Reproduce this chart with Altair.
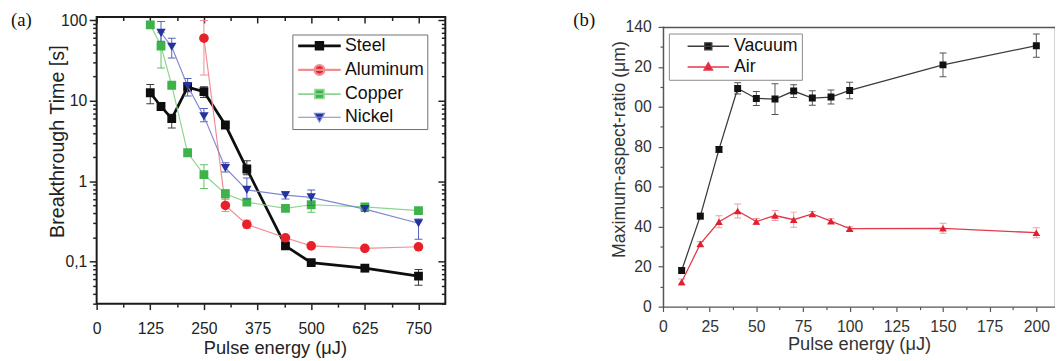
import altair as alt
import pandas as pd

FONT = "Liberation Sans"
SERIF = "Liberation Serif"

# ---------------- Panel (a): breakthrough time (log) ----------------
a_series = ["Steel", "Aluminum", "Copper", "Nickel"]

steel_x = [125, 150, 175, 212, 250, 300, 350, 440, 500, 625, 750]
steel_y = [12.6, 8.5, 6.0, 14.8, 13.0, 5.0, 1.42, 0.157, 0.097, 0.083, 0.066]
steel_lo = [9.2, 8.0, 4.6, 13.0, 11.0, 4.6, 1.20, 0.150, 0.093, 0.075, 0.051]
steel_hi = [16.0, 9.0, 6.8, 16.5, 15.0, 5.4, 1.80, 0.165, 0.101, 0.091, 0.080]

alu_x = [250, 300, 350, 440, 500, 625, 750]
alu_y = [60.0, 0.50, 0.29, 0.198, 0.157, 0.146, 0.153]
alu_lo = [21.0, 0.42, 0.26, 0.186, 0.150, 0.140, 0.145]
alu_hi = [100.0, 0.60, 0.33, 0.210, 0.165, 0.152, 0.161]

cu_x = [125, 150, 175, 212, 250, 300, 350, 440, 500, 625, 750]
cu_y = [88.0, 48.0, 15.6, 2.26, 1.21, 0.70, 0.55, 0.46, 0.51, 0.48, 0.43]
cu_lo = [85.0, 25.5, 15.0, 2.10, 0.81, 0.60, 0.52, 0.43, 0.41, 0.46, 0.41]
cu_hi = [92.0, 70.0, 16.5, 2.40, 1.60, 0.78, 0.59, 0.49, 0.62, 0.50, 0.45]

ni_x = [150, 175, 212, 250, 300, 350, 440, 500, 625, 750]
ni_y = [70.0, 47.0, 15.3, 6.4, 1.46, 0.78, 0.67, 0.63, 0.45, 0.30]
ni_lo = [55.0, 34.0, 11.5, 5.5, 1.30, 0.60, 0.60, 0.50, 0.42, 0.19]
ni_hi = [97.0, 60.0, 19.0, 8.0, 1.70, 1.10, 0.74, 0.78, 0.48, 0.34]

# ---------------- Panel (b): maximum aspect ratio ----------------
b_series = ["Vacuum", "Air"]
b_x = [10, 20, 30, 40, 50, 60, 70, 80, 90, 100, 150, 200]
vac_y = [18.1, 45.3, 78.7, 109.2, 104.2, 103.9, 107.9, 104.4, 104.9, 108.2, 121.0, 130.6]
vac_err = [1.2, 1.5, 1.5, 2.8, 3.5, 7.7, 3.2, 3.6, 3.5, 4.1, 6.0, 5.8]
air_y = [12.3, 31.4, 42.5, 47.9, 42.6, 45.6, 43.5, 46.4, 42.8, 39.0, 39.2, 37.0]
air_err = [1.5, 1.2, 3.0, 3.5, 1.5, 2.5, 3.8, 1.2, 1.2, 1.0, 2.5, 2.5]

# ---------------- tables ----------------
def frame(name, xs, ys, lo, hi):
    return pd.DataFrame({"series": name, "x": xs, "y": ys, "lo": lo, "hi": hi})

df_a = pd.concat([
    frame("Steel", steel_x, steel_y, steel_lo, steel_hi),
    frame("Aluminum", alu_x, alu_y, alu_lo, alu_hi),
    frame("Copper", cu_x, cu_y, cu_lo, cu_hi),
    frame("Nickel", ni_x, ni_y, ni_lo, ni_hi),
], ignore_index=True)

df_b = pd.concat([
    frame("Vacuum", b_x, vac_y, [v - e for v, e in zip(vac_y, vac_err)], [v + e for v, e in zip(vac_y, vac_err)]),
    frame("Air", b_x, air_y, [v - e for v, e in zip(air_y, air_err)], [v + e for v, e in zip(air_y, air_err)]),
], ignore_index=True)

# ---------------- styles ----------------
A_STYLE = {
    "Steel": dict(marker="#0e0e0e", line="#0e0e0e", err="#3a3a3a", lw=2.8, shape="square", size=80),
    "Aluminum": dict(marker="#e82029", line="#f08d93", err="#f08d93", lw=1.2, shape="circle", size=95),
    "Copper": dict(marker="#3db34a", line="#8ed592", err="#5fc168", lw=1.2, shape="square", size=80),
    "Nickel": dict(marker="#24339e", line="#8088d4", err="#5561c0", lw=1.2, shape="triangle-down", size=90),
}
B_STYLE = {
    "Vacuum": dict(marker="#111111", line="#3c3c3c", err="#555555", lw=1.3, shape="square", size=50),
    "Air": dict(marker="#e0202e", line="#e23a4a", err="#f29aa5", lw=1.3, shape="triangle-up", size=60),
}

A_PATHS = [
    "M-4.8,0H4.8M-0.75,-0.75H0.75V0.75H-0.75Z",
    "M-4.8,0H4.8M1.1,0A1.1,1.1,0,1,1,-1.1,0A1.1,1.1,0,1,1,1.1,0Z",
    "M-4.8,0H4.8M-1,-1H1V1H-1Z",
    "M-4.8,0H4.8M-1.15,-0.9H1.15L0,1.1Z",
]
B_PATHS = [
    "M-6,0H6M-1,-1H1V1H-1Z",
    "M-6,0H6M-1.2,0.9H1.2L0,-1.2Z",
]

A_W, A_H = 354, 291
B_W, B_H, B_TOP = 398, 294, 10   # panel (b) frame starts 10px lower than panel (a)

X_A = alt.Scale(domain=[0, 812.5], nice=False, zero=False)
Y_A = alt.Scale(type="log", domain=[0.03, 110], nice=False)
X_B = alt.Scale(domain=[0, 210], nice=False, zero=False)
Y_B = alt.Scale(domain=[0, 140], nice=False, zero=False, range=[B_H, B_TOP])

a_x_vals = [i * 62.5 for i in range(13)]
a_x_major = [v for v in a_x_vals if v % 125 == 0]
a_x_minor = [v for v in a_x_vals if v % 125 != 0]
a_y_major = [0.1, 1, 10, 100]
a_y_minor = [round(m * 10 ** e, 6) for e in (-2, -1, 0, 1) for m in range(2, 10)]
a_y_minor = [v for v in a_y_minor if v >= 0.03]
a_y_vals = sorted(a_y_major + a_y_minor)
b_x_vals = [i * 12.5 for i in range(17)]
b_y_vals = [i * 10 for i in range(15)]

A_MAJOR_Y = "indexof([0.1,1,10,100], datum.value) >= 0"

common_axis = dict(domain=False, grid=False, labelFont=FONT, titleFont=FONT,
                   titleFontWeight="normal", labelOverlap=False)

ax_a_bottom = alt.Axis(
    orient="bottom", values=a_x_vals, **common_axis,
    labelExpr="datum.value % 125 == 0 ? format(datum.value, 'd') : ''",
    tickSize={"condition": {"test": "datum.value % 125 == 0", "value": 6}, "value": 3.5},
    tickColor="#222", tickWidth=1.5, labelFontSize=16, labelColor="#222", labelPadding=11,
    labelFlush=False,
    title="Pulse energy (μJ)", titleFontSize=18.5, titleColor="#222",
    titleX=181, titleY=45, titleBaseline="middle", titleAlign="center",
)
ax_a_left = alt.Axis(
    orient="left", values=a_y_vals, **common_axis,
    labelExpr="datum.value == 0.1 ? '0,1' : (indexof([1,10,100], datum.value) >= 0 ? format(datum.value, 'd') : '')",
    tickSize={"condition": {"test": A_MAJOR_Y, "value": 7.5}, "value": 4},
    tickColor="#222", tickWidth=1.5, labelFontSize=16, labelColor="#222", labelPadding=2.5,
    labelFlush=False,
    title="Breakthrough Time [s]", titleFontSize=20, titleColor="#222",
    titleX=-40, titleY=126, titleAngle=-90, titleBaseline="middle", titleAlign="center",
)


def mirror_axis(orient, values, size):
    # inward ticks: move the axis inside the frame by its tick length
    return alt.Axis(orient=orient, values=values, labels=False, domain=False, grid=False,
                    title=None, tickColor="#222", tickWidth=1.5, tickSize=size, offset=-size)


def frame_axis(orient, offset=0):
    return alt.Axis(orient=orient, labels=False, ticks=False, grid=False, title=None,
                    domain=True, domainColor="#555", domainWidth=1.5, domainCap="square",
                    offset=offset)


ax_b_bottom = alt.Axis(
    orient="bottom", values=b_x_vals, **{**common_axis, "domain": True},
    domainColor="#555", domainWidth=1.5, domainCap="square",
    labelExpr="datum.value % 25 == 0 ? format(datum.value, 'd') : ''",
    tickSize={"condition": {"test": "datum.value % 25 == 0", "value": 5}, "value": 3},
    tickColor="#555", tickWidth=1.2, labelFontSize=16, labelColor="#333", labelPadding=7,
    labelFlush=False,
    title="Pulse energy (μJ)", titleFontSize=18.5, titleColor="#333",
    titleX=199, titleY=38, titleBaseline="middle", titleAlign="center",
)
ax_b_left = alt.Axis(
    orient="left", values=b_y_vals, **{**common_axis, "domain": True},
    domainColor="#555", domainWidth=1.5, domainCap="square",
    labelExpr="datum.value % 20 != 0 ? '' : (datum.value == 120 ? '20' : (datum.value == 100 ? '00' : format(datum.value, 'd')))",
    tickSize={"condition": {"test": "datum.value % 20 == 0", "value": 5}, "value": 3},
    tickColor="#555", tickWidth=1.2, labelFontSize=16, labelColor="#333", labelPadding=7,
    labelFlush=False,
    title="Maximum-aspect-ratio (μm)", titleFontSize=18, titleColor="#333",
    titleX=-44, titleY=134, titleAngle=-90, titleBaseline="middle", titleAlign="center",
)


def series_layers(df, name, style, xs, ys, cap):
    base = alt.Chart(df[df["series"] == name])
    x = alt.X("x:Q", scale=xs, axis=None)
    rule = base.mark_rule(color=style["err"], strokeWidth=1, clip=True).encode(
        x=x, y=alt.Y("lo:Q", scale=ys, axis=None), y2="hi:Q")
    cap_lo = base.mark_tick(orient="horizontal", color=style["err"], size=cap, thickness=1,
                            opacity=1, clip=True).encode(x=x, y=alt.Y("lo:Q", scale=ys, axis=None))
    cap_hi = base.mark_tick(orient="horizontal", color=style["err"], size=cap, thickness=1,
                            opacity=1, clip=True).encode(x=x, y=alt.Y("hi:Q", scale=ys, axis=None))
    line = base.mark_line(color=style["line"], strokeWidth=style["lw"], clip=True).encode(
        x=x, y=alt.Y("y:Q", scale=ys, axis=None))
    pts = base.mark_point(filled=True, shape=style["shape"], size=style["size"],
                          color=style["marker"], opacity=1, clip=True).encode(
        x=x, y=alt.Y("y:Q", scale=ys, axis=None))
    return [rule, cap_lo, cap_hi, line, pts]


def label_layer(text, x, y):
    return alt.Chart(pd.DataFrame({"t": [text]})).mark_text(
        font=SERIF, fontSize=19, align="left", baseline="middle", color="#111"
    ).encode(text="t:N", x=alt.value(x), y=alt.value(y))


def ghost(df, xs, ys, xaxis, yaxis):
    return alt.Chart(df).mark_point(opacity=0).encode(
        x=alt.X("x:Q", scale=xs, axis=xaxis),
        y=alt.Y("y:Q", scale=ys, axis=yaxis),
    )


# ---------------- panel (a) ----------------
legend_a = alt.Legend(
    title=None, orient="none", legendX=198.7, legendY=17.7,
    labelFont=FONT, labelFontSize=18, labelColor="#111", labelLimit=400,
    strokeColor="#6f6f6f", fillColor="white", padding=2.5,
    symbolSize=81, symbolOpacity=1, symbolOffset=16, labelOffset=17, rowPadding=5.5,
)
layers_a = []
for s in a_series:
    layers_a += series_layers(df_a, s, A_STYLE[s], X_A, Y_A, 8)

axes_a = ghost(df_a, X_A, Y_A, ax_a_bottom, ax_a_left)
mirror_a1 = ghost(df_a, X_A, Y_A, mirror_axis("top", a_x_major, 6), mirror_axis("right", a_y_major, 7.5))
mirror_a2 = ghost(df_a, X_A, Y_A, mirror_axis("top", a_x_minor, 3.5), mirror_axis("right", a_y_minor, 4))
carrier_a = alt.Chart(df_a).mark_point(filled=True, opacity=0).encode(
    x=alt.X("x:Q", scale=X_A, axis=None),
    y=alt.Y("y:Q", scale=Y_A, axis=None),
    color=alt.Color("series:N", scale=alt.Scale(domain=a_series, range=[A_STYLE[s]["marker"] for s in a_series]), legend=legend_a),
    stroke=alt.Stroke("series:N", scale=alt.Scale(domain=a_series, range=[A_STYLE[s]["line"] for s in a_series]), legend=legend_a),
    shape=alt.Shape("series:N", scale=alt.Scale(domain=a_series, range=A_PATHS), legend=legend_a),
    strokeWidth=alt.StrokeWidth("series:N", scale=alt.Scale(domain=a_series, range=[A_STYLE[s]["lw"] for s in a_series]), legend=legend_a),
)

panel_a = alt.layer(axes_a, mirror_a1, mirror_a2, carrier_a, *layers_a, label_layer("(a)", -87, 3.5)).resolve_axis(
    x="independent", y="independent"
).properties(width=A_W, height=A_H, view=alt.ViewBackground(stroke="#1a1a1a", strokeWidth=2))

# ---------------- panel (b) ----------------
legend_b = alt.Legend(
    title=None, orient="none", legendX=6, legendY=16.7,
    labelFont=FONT, labelFontSize=18, labelColor="#111", labelLimit=400,
    strokeColor="#8a8a8a", fillColor="white", padding=4,
    symbolSize=49, symbolOpacity=1, symbolOffset=27, labelOffset=17, rowPadding=3,
)
layers_b = []
for s in b_series:
    layers_b += series_layers(df_b, s, B_STYLE[s], X_B, Y_B, 7)

axes_b = ghost(df_b, X_B, Y_B, ax_b_bottom, ax_b_left)
frame_b = ghost(df_b, X_B, Y_B, frame_axis("top", offset=-B_TOP), frame_axis("right"))
carrier_b = alt.Chart(df_b).mark_point(filled=True, opacity=0).encode(
    x=alt.X("x:Q", scale=X_B, axis=None),
    y=alt.Y("y:Q", scale=Y_B, axis=None),
    color=alt.Color("series:N", scale=alt.Scale(domain=b_series, range=[B_STYLE[s]["marker"] for s in b_series]), legend=legend_b),
    stroke=alt.Stroke("series:N", scale=alt.Scale(domain=b_series, range=[B_STYLE[s]["line"] for s in b_series]), legend=legend_b),
    shape=alt.Shape("series:N", scale=alt.Scale(domain=b_series, range=B_PATHS), legend=legend_b),
)

panel_b = alt.layer(axes_b, frame_b, carrier_b, *layers_b, label_layer("(b)", -91, 3)).resolve_axis(
    x="independent", y="independent"
).properties(width=B_W, height=B_H, view=alt.ViewBackground(stroke=None, strokeWidth=0))

chart = alt.hconcat(panel_a, panel_b, spacing=128).resolve_scale(
    color="independent", stroke="independent", shape="independent", strokeWidth="independent"
).properties(
    padding={"left": 2, "top": -0.5, "right": 0, "bottom": 0}, background="white"
).configure(font=FONT)

chart.save("out.html", embed_options={"renderer": "svg", "actions": False})
